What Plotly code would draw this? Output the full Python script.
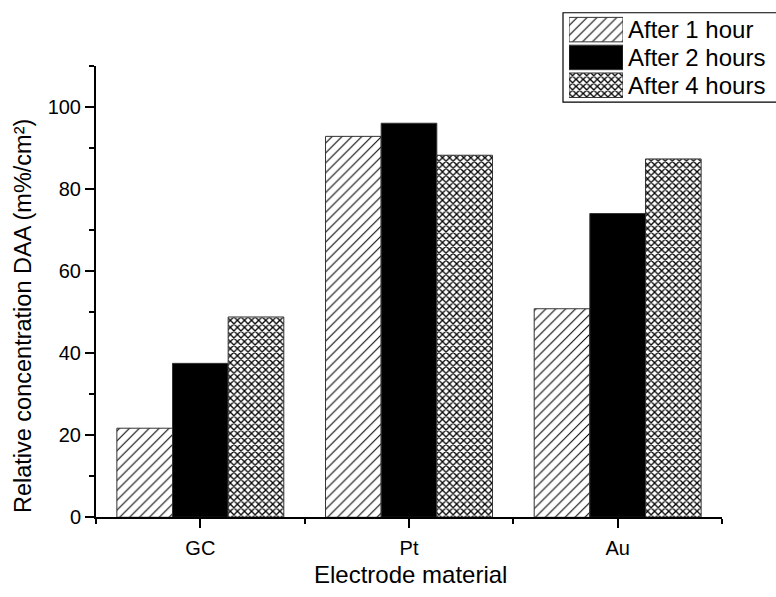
import plotly.graph_objects as go

# Electrode materials and relative DAA concentration after each duration
categories = ["GC", "Pt", "Au"]
series_names = ["After 1 hour", "After 2 hours", "After 4 hours"]
after_1h = [21.7, 92.8, 50.8]
after_2h = [37.5, 96.0, 74.0]
after_4h = [48.8, 88.2, 87.3]
values = [after_1h, after_2h, after_4h]

y_ticks = [0, 20, 40, 60, 80, 100]

W, H = 776, 597
FONT = "Liberation Sans, Arial, Helvetica, sans-serif"

# fill styles: diagonal hatch, solid black, fine cross-hatch
patterns = [
    dict(shape="/", size=7, solidity=0.15, fgcolor="black", bgcolor="white", fillmode="replace"),
    dict(shape="", fgcolor="black", bgcolor="black"),
    dict(shape="x", size=5, solidity=0.45, fgcolor="black", bgcolor="white", fillmode="replace"),
]
fills = ["white", "black", "white"]

def px_x(p):
    return p / W

def px_y(p):
    return (H - p) / H

fig = go.Figure()
x_idx = list(range(len(categories)))
for name, vals, pat, col in zip(series_names, values, patterns, fills):
    fig.add_trace(go.Bar(
        x=x_idx, y=vals, name=name,
        marker=dict(color=col, pattern=pat, line=dict(color="#333333", width=1)),
        showlegend=False,
        xaxis="x", yaxis="y",
    ))

# key: one swatch per series on a small inset axis, names as tick labels
for name, pat, col in zip(series_names, patterns, fills):
    fig.add_trace(go.Bar(
        y=[name], x=[1], orientation="h", width=0.88,
        marker=dict(color=col, pattern=pat, line=dict(color="#333333", width=1)),
        showlegend=False, hoverinfo="skip",
        xaxis="x2", yaxis="y2",
    ))

fig.update_layout(
    width=W, height=H,
    margin=dict(l=0, r=0, t=0, b=0),
    paper_bgcolor="white", plot_bgcolor="white",
    font=dict(family=FONT, color="black"),
    barmode="group", bargap=0.2, bargroupgap=0,
    xaxis=dict(
        domain=[px_x(96), px_x(722)], anchor="y",
        range=[-0.5, 2.5],
        tickmode="array", tickvals=x_idx, ticktext=categories,
        ticks="outside", ticklen=9, tickwidth=1.5, tickcolor="black",
        minor=dict(tick0=-0.5, dtick=1, ticks="outside", ticklen=5, tickwidth=1.5, tickcolor="black"),
        showline=True, linecolor="black", linewidth=2,
        showgrid=False, zeroline=False,
        ticklabelstandoff=3,
        tickfont=dict(size=20, family=FONT),
    ),
    yaxis=dict(
        domain=[px_y(527), px_y(67)], anchor="x",
        range=[0, 110],
        tickmode="array", tickvals=y_ticks,
        ticks="outside", ticklen=9, tickwidth=1.5, tickcolor="black",
        minor=dict(tick0=0, dtick=10, ticks="outside", ticklen=5, tickwidth=1.5, tickcolor="black"),
        showline=True, linecolor="black", linewidth=2,
        showgrid=False, zeroline=False,
        tickfont=dict(size=20, family=FONT),
    ),
    xaxis2=dict(
        domain=[px_x(569), px_x(623)], anchor="y2",
        range=[0, 1], visible=False, fixedrange=True,
    ),
    yaxis2=dict(
        domain=[px_y(101), px_y(16)], anchor="x2",
        side="right", autorange="reversed",
        type="category", tickmode="array",
        tickvals=series_names, ticktext=series_names,
        showline=False, showgrid=False, zeroline=False, ticks="",
        ticklabelstandoff=4,
        tickfont=dict(size=24, family=FONT), fixedrange=True,
    ),
    shapes=[dict(
        type="rect", xref="paper", yref="paper",
        x0=px_x(563), x1=px_x(790), y0=px_y(104), y1=px_y(13),
        line=dict(color="black", width=1.2), fillcolor="rgba(0,0,0,0)",
        layer="below",
    )],
    annotations=[
        dict(text="Electrode material", xref="paper", yref="paper",
             x=px_x(410), y=px_y(585), xanchor="center", yanchor="middle",
             showarrow=False, font=dict(size=24, family=FONT)),
        dict(text="Relative concentration DAA (m%/cm²)", xref="paper", yref="paper",
             x=px_x(23), y=px_y(322), xanchor="center", yanchor="middle",
             textangle=-90, showarrow=False, font=dict(size=23.5, family=FONT)),
    ],
)

fig.write_html("out.html")
